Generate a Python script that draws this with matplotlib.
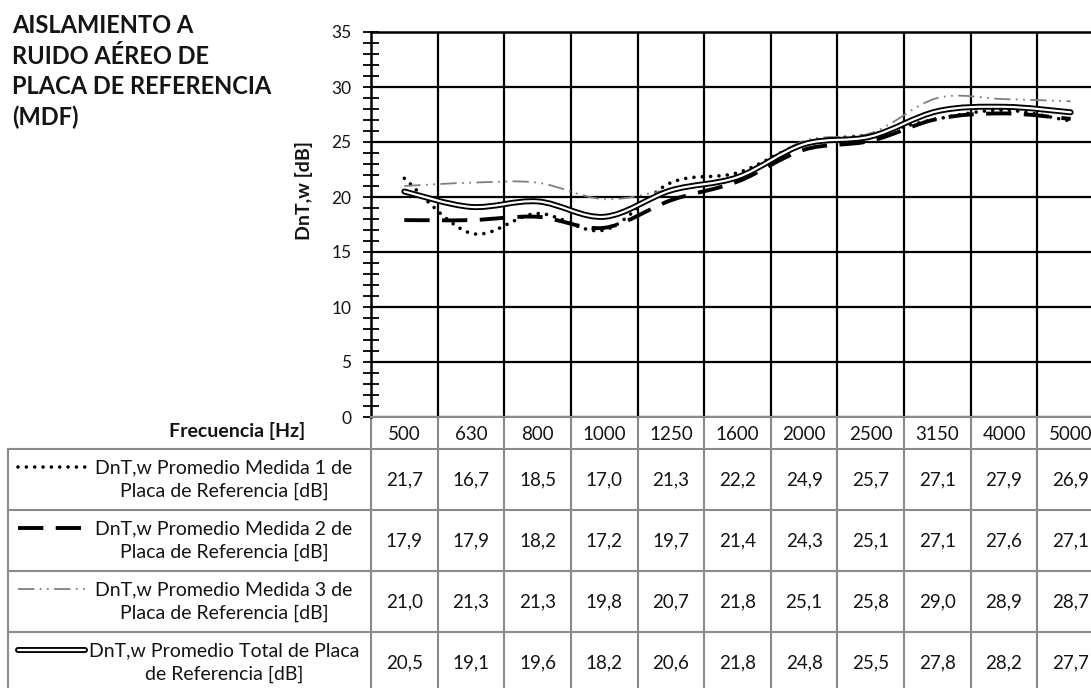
import matplotlib
matplotlib.use("Agg")
import matplotlib.pyplot as plt
from matplotlib.path import Path
from matplotlib.patches import PathPatch
from matplotlib.lines import Line2D
from matplotlib.ticker import MultipleLocator

plt.rcParams['font.family'] = ['Lato', 'DejaVu Sans']

# datos
frecuencias = ["500", "630", "800", "1000", "1250", "1600", "2000", "2500", "3150", "4000", "5000"]
medida_1 = [21.7, 16.7, 18.5, 17.0, 21.3, 22.2, 24.9, 25.7, 27.1, 27.9, 26.9]
medida_2 = [17.9, 17.9, 18.2, 17.2, 19.7, 21.4, 24.3, 25.1, 27.1, 27.6, 27.1]
medida_3 = [21.0, 21.3, 21.3, 19.8, 20.7, 21.8, 25.1, 25.8, 29.0, 28.9, 28.7]
total = [20.5, 19.1, 19.6, 18.2, 20.6, 21.8, 24.8, 25.5, 27.8, 28.2, 27.7]
etiquetas = ["DnT,w Promedio Medida 1 de\nPlaca de Referencia [dB]",
             "DnT,w Promedio Medida 2 de\nPlaca de Referencia [dB]",
             "DnT,w Promedio Medida 3 de\nPlaca de Referencia [dB]",
             "DnT,w Promedio Total de Placa\nde Referencia [dB]"]
titulo = "AISLAMIENTO A\nRUIDO AÉREO DE\nPLACA DE REFERENCIA\n(MDF)"

W, H = 1091, 688
x0, top, bottom = 371, 32, 417
cw = 733 / 11
gris = '#8a8a8a'
texto = '#141414'


def fx(px):
    return px / W


def fy(py):
    return 1 - py / H


def smooth_path(xs, ys):
    # curva suavizada tipo Excel (Catmull-Rom -> Bezier)
    n = len(xs)
    verts = [(xs[0], ys[0])]
    codes = [Path.MOVETO]
    for i in range(n - 1):
        a = max(i - 1, 0)
        d = min(i + 2, n - 1)
        c1 = (xs[i] + (xs[i + 1] - xs[a]) / 6, ys[i] + (ys[i + 1] - ys[a]) / 6)
        c2 = (xs[i + 1] - (xs[d] - xs[i]) / 6, ys[i + 1] - (ys[d] - ys[i]) / 6)
        verts += [c1, c2, (xs[i + 1], ys[i + 1])]
        codes += [Path.CURVE4] * 3
    return Path(verts, codes)


estilos = [
    [dict(color='black', lw=2.6, linestyle=(0, (0.01, 2.3)), capstyle='round')],
    [dict(color='black', lw=2.8, linestyle=(0, (6.5, 3.2)), capstyle='butt')],
    [dict(color='#7f7f7f', lw=1.3, linestyle=(0, (9, 3, 1, 3, 1, 3)), capstyle='butt')],
    [dict(color='black', lw=4.3, linestyle='-', capstyle='round'),
     dict(color='white', lw=1.6, linestyle='-', capstyle='round')],
]
series = [medida_1, medida_2, medida_3, total]

fig = plt.figure(figsize=(W / 100, H / 100), dpi=100)
ax = fig.add_axes([fx(x0), fy(bottom), 733 / W, (bottom - top) / H])
ax.set_xlim(-0.5, 10.5)
ax.set_ylim(0, 35)

xs = list(range(len(frecuencias)))
for vals, est in zip(series, estilos):
    for e in est:
        p = PathPatch(smooth_path(xs, vals), facecolor='none', edgecolor=e['color'],
                      lw=e['lw'], linestyle=e['linestyle'], capstyle=e['capstyle'],
                      joinstyle='round', zorder=3)
        ax.add_patch(p)

ax.yaxis.set_major_locator(MultipleLocator(5))
ax.yaxis.set_minor_locator(MultipleLocator(1))
ax.set_xticks([])
ax.set_xticks([i + 0.5 for i in range(10)], minor=True)
ax.tick_params(axis='x', which='minor', length=0)
ax.grid(True, axis='y', which='major', color='black', lw=1.6)
ax.grid(True, axis='x', which='minor', color='black', lw=1.6)
ax.tick_params(axis='y', which='major', direction='inout', length=12, width=1.3,
               labelsize=12.5, pad=8, labelcolor=texto)
ax.tick_params(axis='y', which='minor', direction='inout', length=12, width=1.3)
for s in ['top', 'left']:
    ax.spines[s].set_color('black')
    ax.spines[s].set_linewidth(1.8)
ax.spines['right'].set_visible(False)
ax.spines['bottom'].set_color(gris)
ax.spines['bottom'].set_linewidth(1.5)

fig.text(fx(304), fy(190), "DnT,w [dB]", rotation=90, ha='center', va='center',
         fontsize=14, fontweight='bold', color=texto)
fig.text(fx(12), fy(14), titulo, ha='left', va='top', fontsize=17,
         fontweight='bold', linespacing=1.4, color=texto)

# tabla de datos
tab = fig.add_axes([0, 0, 1, 1], zorder=-1)
tab.set_xlim(0, W)
tab.set_ylim(H, 0)
tab.axis('off')

filas = [449 + 61 * k for k in range(5)]
tab.plot([x0, W], [bottom, bottom], color=gris, lw=1.5)
for yy in filas:
    tab.plot([8, W], [yy, yy], color=gris, lw=1.5)
tab.plot([8, 8], [filas[0], filas[-1]], color=gris, lw=1.5)
for k in range(12):
    xx = x0 + cw * k
    tab.plot([xx, xx], [bottom, filas[-1]], color=gris, lw=1.5)

tab.text(305, 431, "Frecuencia [Hz]", ha='right', va='center', fontsize=14,
         fontweight='bold', color=texto)
for i, f in enumerate(frecuencias):
    tab.text(x0 + cw * (i + 0.5), 434, f, ha='center', va='center', fontsize=13.5, color=texto)

for r, (vals, est, lab) in enumerate(zip(series, estilos, etiquetas)):
    yc = (filas[r] + filas[r + 1]) / 2
    for e in est:
        tab.add_line(Line2D([18, 85], [yc - 13, yc - 13], color=e['color'], lw=e['lw'],
                            linestyle=e['linestyle'], dash_capstyle=e['capstyle'],
                            solid_capstyle=e['capstyle']))
    tab.text(224, yc, lab, ha='center', va='center', multialignment='center',
             fontsize=14, linespacing=1.45, color=texto)
    for i, v in enumerate(vals):
        tab.text(x0 + cw * (i + 0.5), yc, f"{v:.1f}".replace('.', ','), ha='center',
                 va='center', fontsize=13.5, color=texto)

fig.savefig("out.png", dpi=100)
